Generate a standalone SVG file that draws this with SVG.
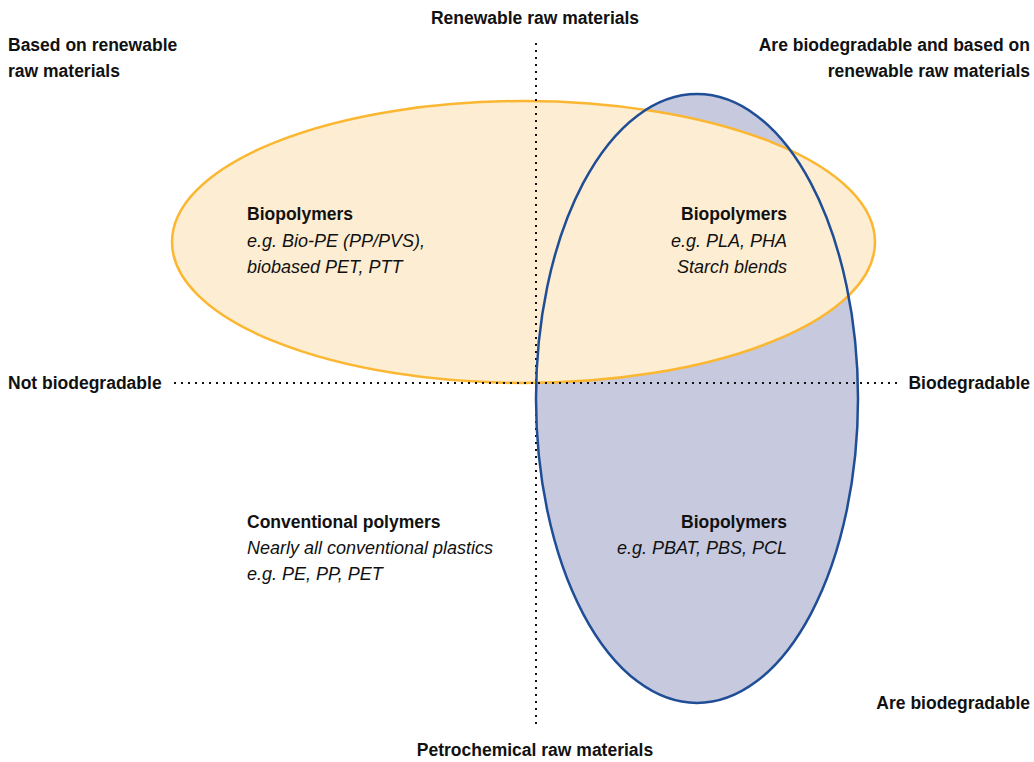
<svg xmlns="http://www.w3.org/2000/svg" width="1034" height="762" viewBox="0 0 1034 762">
<style>
text{font-family:"Liberation Sans",Arial,sans-serif;fill:#111;}
.lb{font-size:17.5px;font-weight:bold;}
.nb{font-size:17.5px;font-weight:bold;}
.ni{font-size:18px;font-style:italic;}
.r{text-anchor:end;}
.m{text-anchor:middle;}
.dot{stroke:#111;stroke-width:2;stroke-dasharray:2 5;fill:none;}
</style>
<rect width="1034" height="762" fill="#fff"/>
<g id="blue-fill"><ellipse cx="697" cy="398.5" rx="161" ry="304.5" fill="#C7C9DE"/></g>
<g id="yellow"><ellipse cx="523.5" cy="242" rx="351.5" ry="141" fill="#FDEDD2" stroke="#FBB731" stroke-width="2.5"/></g>
<g id="connectors">
<line class="dot" x1="536" y1="43" x2="536" y2="728"/>
<line class="dot" x1="174" y1="383" x2="902" y2="383"/>
</g>
<g id="blue"><ellipse cx="697" cy="398.5" rx="161" ry="304.5" fill="none" stroke="#1F4E96" stroke-width="2.5"/></g>
<g id="axis-labels">
<text class="lb m" x="535" y="24">Renewable raw materials</text>
<text class="lb m" x="535" y="756">Petrochemical raw materials</text>
<text class="lb" x="8" y="389">Not biodegradable</text>
<text class="lb r" x="1030" y="389">Biodegradable</text>
<text class="lb" x="8" y="51">Based on renewable</text>
<text class="lb" x="8" y="77">raw materials</text>
<text class="lb r" x="1030" y="51">Are biodegradable and based on</text>
<text class="lb r" x="1030" y="77">renewable raw materials</text>
<text class="lb r" x="1030" y="709">Are biodegradable</text>
</g>
<g id="node-biobased">
<text class="nb" x="247" y="220">Biopolymers</text>
<text class="ni" x="247" y="247">e.g. Bio-PE (PP/PVS),</text>
<text class="ni" x="247" y="273">biobased PET, PTT</text>
</g>
<g id="node-both">
<text class="nb r" x="787" y="220">Biopolymers</text>
<text class="ni r" x="787" y="247">e.g. PLA, PHA</text>
<text class="ni r" x="787" y="273">Starch blends</text>
</g>
<g id="node-conventional">
<text class="nb" x="247" y="528">Conventional polymers</text>
<text class="ni" x="247" y="554">Nearly all conventional plastics</text>
<text class="ni" x="247" y="580">e.g. PE, PP, PET</text>
</g>
<g id="node-biodegradable">
<text class="nb r" x="787" y="528">Biopolymers</text>
<text class="ni r" x="787" y="554">e.g. PBAT, PBS, PCL</text>
</g>
</svg>
